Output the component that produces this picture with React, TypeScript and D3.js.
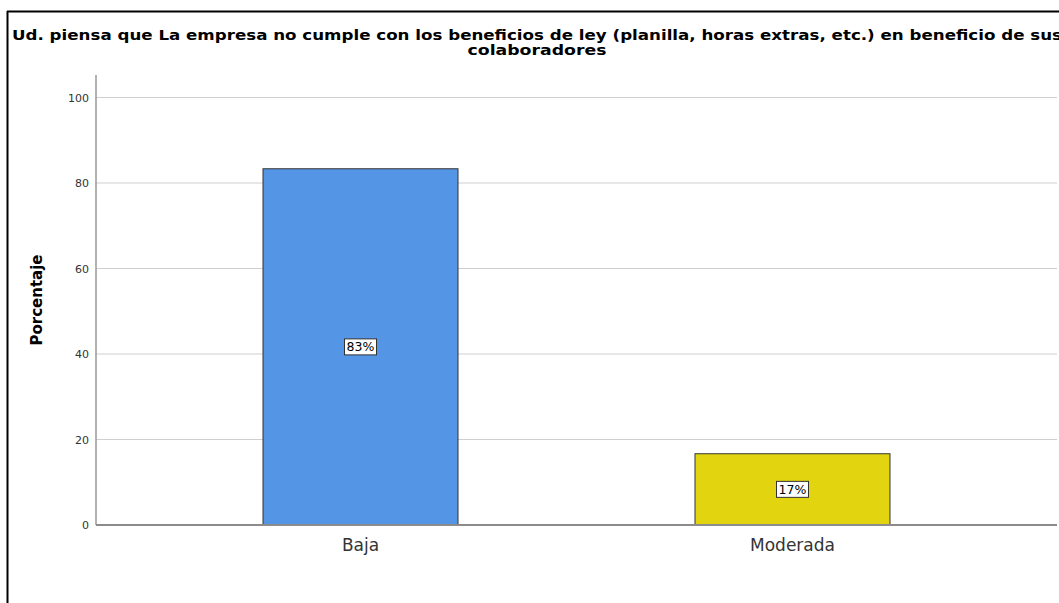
import React from "react";
import * as d3 from "d3";

const categories = ["Baja", "Moderada"];
const values = [83.33, 16.67];
const labels = ["83%", "17%"];
const colors = ["#5595E5", "#E2D510"];
const yTicks = [0, 20, 40, 60, 80, 100];
const titleLines = [
  "Ud. piensa que La empresa no cumple con los beneficios de ley (planilla, horas extras, etc.) en beneficio de sus",
  "colaboradores",
];
const yAxisTitle = "Porcentaje";

const W = 1059;
const H = 603;
const left = 96;
const right = 1057;
const y0 = 525;
const y100 = 97.5;

export default function App() {
  const x = d3
    .scaleBand<string>()
    .domain(categories)
    .range([left, right])
    .paddingInner(0.5486)
    .paddingOuter(0.3866);
  const y = d3.scaleLinear().domain([0, 100]).range([y0, y100]);
  const font = "'DejaVu Sans', 'Liberation Sans', Arial, sans-serif";

  return (
    <svg
      width={W}
      height={H}
      style={{ position: "absolute", left: 0, top: 0, background: "#fff" }}
      fontFamily={font}
    >
      <rect x={0} y={0} width={W} height={H} fill="#fff" />
      {/* frame (left + top edges) */}
      <line x1={7.5} y1={11} x2={7.5} y2={H} stroke="#000" strokeWidth={2} />
      <line x1={7} y1={11.5} x2={W} y2={11.5} stroke="#000" strokeWidth={2} />

      {/* title */}
      <text
        x={537}
        y={40}
        textAnchor="middle"
        fontSize={14.5}
        fontWeight="bold"
        fill="#000"
        textLength={1050}
        lengthAdjust="spacingAndGlyphs"
      >
        {titleLines[0]}
      </text>
      <text
        x={537}
        y={54.5}
        textAnchor="middle"
        fontSize={14.5}
        fontWeight="bold"
        fill="#000"
        textLength={139}
        lengthAdjust="spacingAndGlyphs"
      >
        {titleLines[1]}
      </text>

      {/* gridlines */}
      {yTicks
        .filter((t) => t > 0)
        .map((t) => (
          <line
            key={t}
            x1={left}
            x2={right}
            y1={y(t)}
            y2={y(t)}
            stroke="#cfcfcf"
            strokeWidth={1}
          />
        ))}

      {/* bars */}
      {categories.map((c, i) => (
        <rect
          key={c}
          x={x(c)!}
          y={y(values[i])}
          width={x.bandwidth()}
          height={y0 - y(values[i])}
          fill={colors[i]}
          stroke="#333"
          strokeWidth={1}
        />
      ))}

      {/* axes */}
      <line x1={left} x2={left} y1={75} y2={y0} stroke="#999" strokeWidth={1.5} />
      <line x1={left} x2={right} y1={y0} y2={y0} stroke="#8c8c8c" strokeWidth={2} />

      {/* y tick labels */}
      {yTicks.map((t) => (
        <text
          key={t}
          x={89}
          y={y(t) + 4}
          textAnchor="end"
          fontSize={11}
          fill="#333"
        >
          {t}
        </text>
      ))}

      {/* y axis title */}
      <text
        transform={`translate(42,300) rotate(-90)`}
        textAnchor="middle"
        fontSize={15}
        fontWeight="bold"
        fill="#000"
      >
        {yAxisTitle}
      </text>

      {/* category labels */}
      {categories.map((c) => (
        <text
          key={c}
          x={x(c)! + x.bandwidth() / 2}
          y={551}
          textAnchor="middle"
          fontSize={17}
          fill="#333"
        >
          {c}
        </text>
      ))}

      {/* value labels */}
      {categories.map((c, i) => {
        const cx = x(c)! + x.bandwidth() / 2;
        const cy = (y(values[i]) + y0) / 2;
        const w = 32;
        const h = 16;
        return (
          <g key={c}>
            <rect
              x={cx - w / 2}
              y={cy - h / 2}
              width={w}
              height={h}
              fill="#fff"
              stroke="#333"
              strokeWidth={1}
            />
            <text x={cx} y={cy + 4.5} textAnchor="middle" fontSize={12.5} fill="#000">
              {labels[i]}
            </text>
          </g>
        );
      })}
    </svg>
  );
}
